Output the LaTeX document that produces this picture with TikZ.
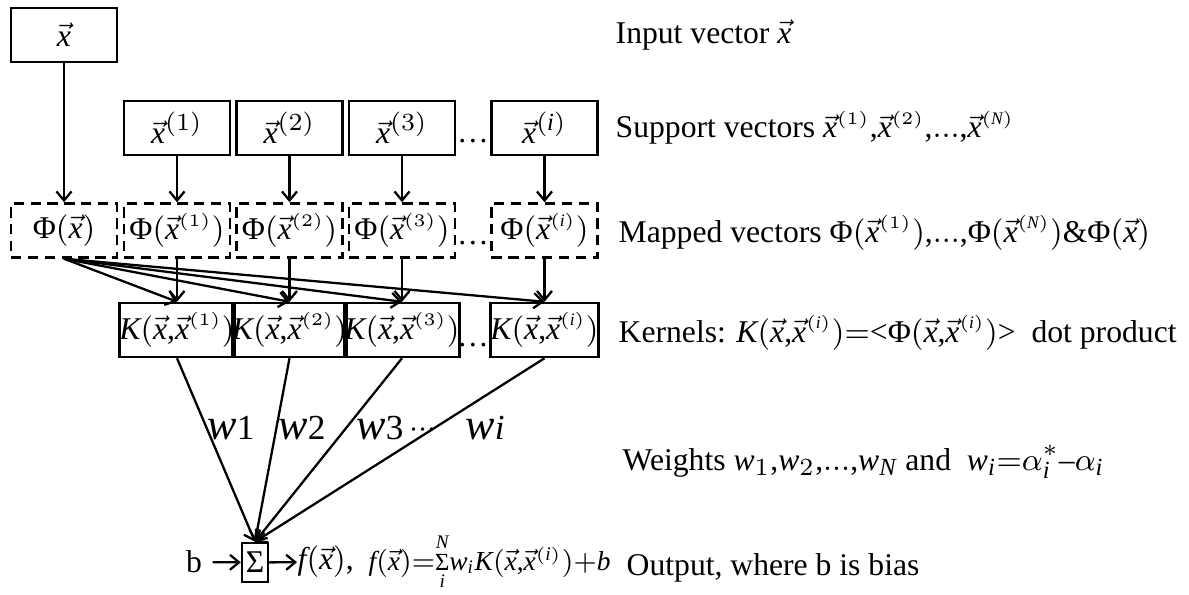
\documentclass[tikz,border=0pt]{standalone}
\usepackage{fontspec}
\setmainfont{Liberation Serif}
\usepackage{amsmath}
\usepackage[italic]{mathastext}
\usetikzlibrary{arrows.meta}
\tikzset{
  every node/.style={font=\fontsize{9}{11}\selectfont,inner sep=0pt},
  vecbox/.style={draw,line width=.7pt,minimum width=1.06cm,minimum height=.54cm},
  mapbox/.style={vecbox,dash pattern=on 2.9pt off 1.9pt},
  note/.style={anchor=west},
  wlab/.style={font=\fontsize{12.5}{14}\selectfont},
  arr/.style={-{Straight Barb[length=.9mm,width=1.5mm]},line width=.65pt},
}
\newcommand{\xv}{\vec{x}}
\newcommand{\xs}[1]{\vec{x}^{\scriptscriptstyle(#1)}}
\newcommand{\Ph}{\text{Φ}}
\newcommand{\wlab}[1]{$w$\fontsize{10}{12}\selectfont #1}
\newcommand{\smallsum}{\mathop{\text{\fontsize{7}{7}\selectfont Σ}}\limits}

\begin{document}
\begin{tikzpicture}[x=.01cm,y=-.01cm]
\thinmuskip=0mu \medmuskip=0mu \thickmuskip=0mu
\path[use as bounding box] (0,0) rectangle (1189,595);
% input, its mapping
\node[vecbox] (in) at (64,35) {$\xv$};
\node[mapbox] (phx) at (64,230.5) {$\Ph(\xv)$};
\draw[arr] (in) -- (phx);
% support vectors -> mapped -> kernels
\foreach \n/\x/\s in {1/177/1,2/289.5/2,3/402/3,i/544.5/i}{
  \node[vecbox] (sv\n) at (\x,128) {$\xv^{(\s)}$};
  \node[mapbox] (ph\n) at (\x,230.5) {$\Ph(\xs{\s})$};
  \node[vecbox] (k\n) at (\x,330) {$K(\xv,\xs{\s})$};
  \draw[arr] (sv\n) -- (ph\n);
  \draw[arr] (ph\n) -- (k\n);
  \draw[arr] (phx.south) -- (k\n.north);
}
\node (svdots) at (473,141) {\ldots};
\node (phdots) at (473,243) {\ldots};
\node (kdots) at (473,345) {\ldots};
% weights into the sum
\node[draw,line width=.7pt,minimum width=.26cm,minimum height=.39cm] (sum) at (255,562.5) {Σ};
\foreach \n in {1,2,3,i}{
  \draw[arr] (k\n.south) -- (sum.north);
}
\node[wlab] (w1) at (231,428) {\wlab{1}};
\node[wlab] (w2) at (302,428) {\wlab{2}};
\node[wlab] (w3) at (380,428) {\wlab{3}};
\node (wdots) at (423,430) {$\cdots$};
\node[wlab] (wi) at (485,428) {\wlab{$i$}};
% bias and output
\node[inner sep=.1cm] (b) at (194,562) {b};
\draw[arr] (b) -- (sum);
\node[note] (fx) at (297,562) {$f(\xv)$,};
\draw[arr] (sum) -- (fx);
\node[note,font=\fontsize{7.8}{10}\selectfont] (fsum) at (368,562) {$f(\xv)=\smallsum_{\scriptscriptstyle i}^{\scriptscriptstyle N}w_{\scriptscriptstyle i}K(\xv,\vec{x}^{\scriptscriptstyle(i)})+b$};
% right column
\node[note] (t1) at (615,35) {Input vector $\xv$};
\node[note] (t2) at (615,128) {Support vectors $\xs{1},\xs{2},\ldots,\xs{N}$};
\node[note] (t3) at (618,233) {Mapped vectors $\Ph(\xs{1}),\ldots,\Ph(\xs{N})\&\Ph(\xv)$};
\node[note] (t4) at (618,333) {Kernels: $K(\xv,\xs{i})=<\Ph(\xv,\xs{i})>$ \ dot product};
\node[note] (t5) at (622,462) {Weights $w_1,w_2,\ldots,w_N$ and \ $w_i=\alpha_i^*-\alpha_i$};
\node[note] (t6) at (626,568) {Output, where b is bias};
\end{tikzpicture}
\end{document}
